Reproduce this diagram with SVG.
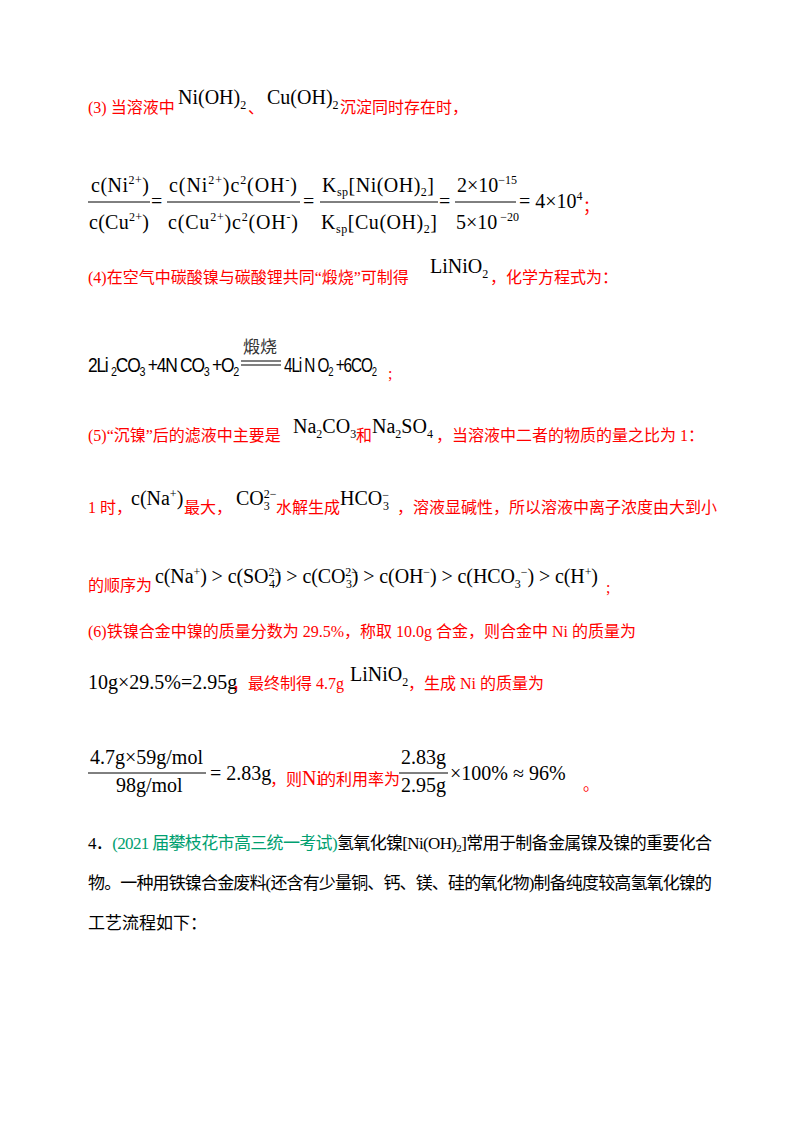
<svg xmlns="http://www.w3.org/2000/svg" width="800" height="1129" viewBox="0 0 800 1129">
<style>
.r{fill:#ff0000;font-family:"Liberation Serif","Noto Sans CJK SC",serif;font-size:16px}
.k{fill:#000;font-family:"Liberation Serif","Noto Sans CJK SC",serif;font-size:17px}
.m{fill:#000;font-family:"Liberation Serif",serif;font-size:20px}
.s{font-size:12px}
.g{fill:#00a070}
.e{fill:#000;font-family:"Liberation Sans",sans-serif;font-size:21px;letter-spacing:-1.5px}
line{stroke:#000;stroke-width:1}
</style>
<rect width="800" height="1129" fill="#fff"/>
<g id="l3">
<text class="r" x="88" y="113">(3) 当溶液中</text>
<text class="m" x="178" y="104" font-size="17">Ni(OH)<tspan class="s" dy="5">2</tspan></text>
<text class="r" x="248" y="113">、</text>
<text class="m" x="267" y="104" font-size="17">Cu(OH)<tspan class="s" dy="5">2</tspan></text>
<text class="r" x="340" y="113">沉淀同时存在时，</text>
</g>
<g id="frac">
<text class="m" x="91" y="192" textLength="58">c(Ni<tspan class="s" dy="-8">2+</tspan><tspan dy="8">)</tspan></text>
<line x1="88" y1="202" x2="150" y2="202"/>
<text class="m" x="89" y="229" textLength="60">c(Cu<tspan class="s" dy="-8">2+</tspan><tspan dy="8">)</tspan></text>
<text class="m" x="151" y="208">=</text>
<text class="m" x="169" y="192" textLength="128">c(Ni<tspan class="s" dy="-8">2+</tspan><tspan dy="8">)c</tspan><tspan class="s" dy="-8">2</tspan><tspan dy="8">(OH</tspan><tspan class="s" dy="-8">-</tspan><tspan dy="8">)</tspan></text>
<line x1="167" y1="202" x2="300" y2="202"/>
<text class="m" x="168" y="229" textLength="130">c(Cu<tspan class="s" dy="-8">2+</tspan><tspan dy="8">)c</tspan><tspan class="s" dy="-8">2</tspan><tspan dy="8">(OH</tspan><tspan class="s" dy="-8">-</tspan><tspan dy="8">)</tspan></text>
<text class="m" x="303" y="208">=</text>
<text class="m" x="322" y="192" textLength="112">K<tspan class="s" dy="4">sp</tspan><tspan dy="-4">[Ni(OH)</tspan><tspan class="s" dy="4">2</tspan><tspan dy="-4">]</tspan></text>
<line x1="320" y1="202" x2="438" y2="202"/>
<text class="m" x="321" y="229" textLength="116">K<tspan class="s" dy="4">sp</tspan><tspan dy="-4">[Cu(OH)</tspan><tspan class="s" dy="4">2</tspan><tspan dy="-4">]</tspan></text>
<text class="m" x="439" y="208">=</text>
<text class="m" x="457" y="192">2×10<tspan class="s" dy="-8">−15</tspan></text>
<line x1="455" y1="202" x2="516" y2="202"/>
<text class="m" x="456" y="229">5×10<tspan class="s" dy="-8"> −20</tspan></text>
<text class="m" x="519" y="208">= 4×10<tspan class="s" dy="-8">4</tspan></text>
<text class="r" x="583" y="212">；</text>
</g>
<g id="l4">
<text class="r" x="88" y="283">(4)在空气中碳酸镍与碳酸锂共同“煅烧”可制得</text>
<text class="m" x="430" y="273" font-size="17">LiNiO<tspan class="s" dy="5">2</tspan></text>
<text class="r" x="490" y="283">，化学方程式为：</text>
</g>
<g id="eq">
<text class="e" x="88" y="372" textLength="150" lengthAdjust="spacingAndGlyphs">2Li <tspan font-size="13" dy="4">2</tspan><tspan dy="-4">CO</tspan><tspan font-size="13" dy="4">3</tspan><tspan dy="-4"> +4N CO</tspan><tspan font-size="13" dy="4">3</tspan><tspan dy="-4"> +O</tspan><tspan font-size="13" dy="4">2</tspan></text>
<text x="243" y="353" style="font-family:'Noto Sans CJK SC',sans-serif;font-size:17px" fill="#333">煅烧</text>
<line x1="241" y1="361" x2="281" y2="361"/><line x1="241" y1="365" x2="281" y2="365"/>
<text class="e" x="284" y="372" textLength="92" lengthAdjust="spacingAndGlyphs">4Li N O<tspan font-size="13" dy="4">2</tspan><tspan dy="-4"> +6CO</tspan><tspan font-size="13" dy="4">2</tspan></text>
<text class="r" x="388" y="379" font-size="12">;</text>
</g>
<g id="l5">
<text class="r" x="88" y="441">(5)“沉镍”后的滤液中主要是</text>
<text class="m" x="293" y="433" font-size="17">Na<tspan class="s" dy="5">2</tspan><tspan dy="-5">CO</tspan><tspan class="s" dy="5">3</tspan></text>
<text class="r" x="356" y="441">和</text>
<text class="m" x="372" y="433" font-size="17">Na<tspan class="s" dy="5">2</tspan><tspan dy="-5">SO</tspan><tspan class="s" dy="5">4</tspan></text>
<text class="r" x="436" y="441">，当溶液中二者的物质的量之比为 1：</text>
<text class="r" x="88" y="513">1 时，</text>
<text class="m" x="131" y="505" font-size="16">c(Na<tspan class="s" dy="-7">+</tspan><tspan dy="7">)</tspan></text>
<text class="r" x="184" y="513">最大，</text>
<text class="m" x="236" y="505" font-size="16">CO<tspan class="s" dy="5">3</tspan><tspan class="s" dx="-6" dy="-12">2−</tspan></text>
<text class="r" x="276" y="513">水解生成</text>
<text class="m" x="340" y="505" font-size="16">HCO<tspan class="s" dy="-6">−</tspan><tspan class="s" dx="-6" dy="11">3</tspan></text>
<text class="r" x="397" y="513">，溶液显碱性，所以溶液中离子浓度由大到小</text>
<text class="r" x="88" y="591">的顺序为</text>
<text class="m" x="155" y="583" textLength="443">c(Na<tspan class="s" dy="-7">+</tspan><tspan dy="7">) &gt; c(SO</tspan><tspan class="s" dy="-7">2−</tspan><tspan class="s" dx="-12" dy="12">4</tspan><tspan dy="-5">) &gt; c(CO</tspan><tspan class="s" dy="-7">2−</tspan><tspan class="s" dx="-12" dy="12">3</tspan><tspan dy="-5">) &gt; c(OH</tspan><tspan class="s" dy="-7">−</tspan><tspan dy="7">) &gt; c(HCO</tspan><tspan class="s" dy="5">3</tspan><tspan class="s" dy="-12">−</tspan><tspan dy="7">) &gt; c(H</tspan><tspan class="s" dy="-7">+</tspan><tspan dy="7">)</tspan></text>
<text class="r" x="606" y="593">;</text>
</g>
<g id="l6">
<text class="r" x="88" y="637">(6)铁镍合金中镍的质量分数为 29.5%，称取 10.0g 合金，则合金中 Ni 的质量为</text>
<text class="m" x="88" y="689" font-size="16">10g×29.5%=2.95g</text>
<text class="r" x="232" y="689">，最终制得 4.7g</text>
<text class="m" x="350" y="681" font-size="17">LiNiO<tspan class="s" dy="5">2</tspan></text>
<text class="r" x="408" y="689">，生成 Ni 的质量为</text>
<text class="m" x="90" y="764" font-size="18">4.7g×59g/mol</text>
<line x1="88" y1="773" x2="206" y2="773"/>
<text class="m" x="116" y="792" font-size="18">98g/mol</text>
<text class="m" x="210" y="780" font-size="18">= 2.83g</text>
<text class="r" x="270" y="785">，则</text>
<text class="m" x="302" y="785" font-size="17" style="fill:#ff0000">Ni</text>
<text class="r" x="320" y="785">的利用率为</text>
<text class="m" x="401" y="764" font-size="18">2.83g</text>
<line x1="399" y1="773" x2="448" y2="773"/>
<text class="m" x="401" y="792" font-size="18">2.95g</text>
<text class="m" x="450" y="780" font-size="18">×100% ≈ 96%</text>
<text class="r" x="583" y="790">。</text>
</g>
<g id="q4">
<text class="k" x="88" y="849" textLength="624" lengthAdjust="spacing">4．<tspan class="g">(2021 届攀枝花市高三统一考试)</tspan>氢氧化镍[Ni(OH)<tspan font-size="11" dy="3">2</tspan><tspan dy="-3">]常用于制备金属镍及镍的重要化合</tspan></text>
<text class="k" x="88" y="889" textLength="624" lengthAdjust="spacing">物。一种用铁镍合金废料(还含有少量铜、钙、镁、硅的氧化物)制备纯度较高氢氧化镍的</text>
<text class="k" x="88" y="929">工艺流程如下：</text>
</g>
</svg>
